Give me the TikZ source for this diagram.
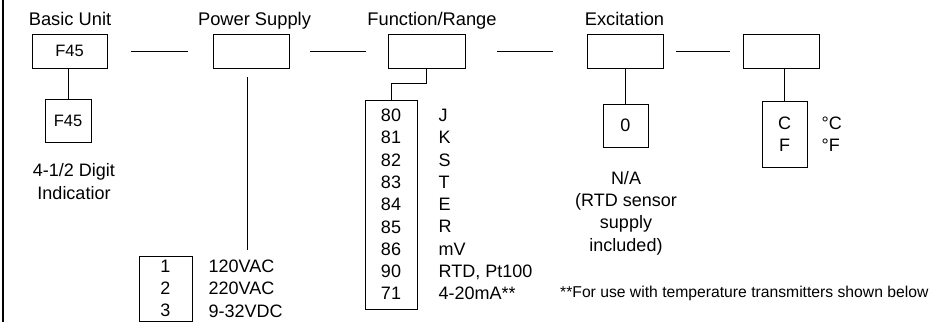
\documentclass[tikz,border=0pt]{standalone}
\usepackage{fontspec}
\setmainfont{Liberation Sans}
\usetikzlibrary{positioning}
\begin{document}
\begin{tikzpicture}[x=1pt,y=-1pt,line join=miter,
   box/.style={draw,line width=0.9pt,inner sep=0pt},
   head/.style={font=\fontsize{18.3}{22}\selectfont,anchor=base},
   txt/.style={font=\fontsize{18}{22.3}\selectfont,inner sep=0pt},
   code/.style={font=\fontsize{16.5}{20}\selectfont}]
\useasboundingbox (0,0) rectangle (930,322);
\draw[line width=2pt] (3,0) -- (3,322);
% code boxes of the model number
\node[box,code,minimum width=75pt,minimum height=34pt] (unit) at (69.5,51) {F45};
\node[box,minimum width=76pt,minimum height=34pt] (pwr) at (251,51) {};
\node[box,minimum width=77pt,minimum height=34pt] (fun) at (426.5,51) {};
\node[box,minimum width=76pt,minimum height=34pt] (exc) at (625,51) {};
\node[box,minimum width=76pt,minimum height=34pt] (deg) at (781,51) {};
% headings
\node[head] (unith) at (70,25) {Basic Unit};
\node[head] (pwrh) at (254.5,25) {Power Supply};
\node[head] (funh) at (432,25) {Function/Range};
\node[head] (exch) at (624.5,25) {Excitation};
% dashes between the boxes
\draw[line width=0.9pt,shorten <=24pt,shorten >=25pt] (unit) -- (pwr);
\draw[line width=0.9pt,shorten <=21pt,shorten >=22pt] (pwr) -- (fun);
\draw[line width=0.9pt,shorten <=32pt,shorten >=34pt] (fun) -- (exc);
\draw[line width=0.9pt,shorten <=13pt,shorten >=13pt] (exc) -- (deg);
% options
\node[box,code,minimum width=46pt,minimum height=43pt] (f45) at (68,120.5) {F45};
\node[txt,align=center] (f45t) at (74,181.5) {4-1/2 Digit\\Indicatior};

\node[box,txt,align=center,minimum width=53pt,minimum height=65pt] (pwro) at (165.5,288.5) {1\\2\\3};
\node[txt,align=left,anchor=west,right=16pt of pwro] (pwrt) {120VAC\\220VAC\\9-32VDC};

\node[box,txt,align=center,minimum width=52pt,minimum height=209pt] (funo) at (391,204.5)
  {80\\81\\82\\83\\84\\85\\86\\90\\71};
\node[txt,align=left,anchor=west,right=21pt of funo] (funt)
  {J\\K\\S\\T\\E\\R\\mV\\RTD, Pt100\\4-20mA**};

\node[box,txt,minimum width=45pt,minimum height=43pt] (exco) at (625.5,125.5) {0};
\node[txt,align=center] (exct) at (626,213) {N/A\\(RTD sensor\\supply\\included)};

\node[box,txt,align=center,minimum width=45pt,minimum height=66pt] (dego) at (784.5,134) {C\\F};
\node[txt,align=left,anchor=west,right=14pt of dego] (degt) {°C\\°F};

\node[font=\fontsize{15.7}{18}\selectfont,anchor=base west,inner sep=0pt] (note) at (560,297)
  {**For use with temperature transmitters shown below};
% connectors
\draw[line width=0.9pt] (f45.north |- unit.south) -- (f45.north);
\draw[line width=0.9pt,shorten <=9pt,shorten >=6pt] ([xshift=-4pt]pwr.south) -- ([xshift=-4pt]pwr.south |- pwro.north);
\draw[line width=0.9pt] (fun.south) -- ++(0,15) -| (funo.north);
\draw[line width=0.9pt] (exc.south) -- (exc.south |- exco.north);
\draw[line width=0.9pt] (dego.north |- deg.south) -- (dego.north);
\end{tikzpicture}
\end{document}
